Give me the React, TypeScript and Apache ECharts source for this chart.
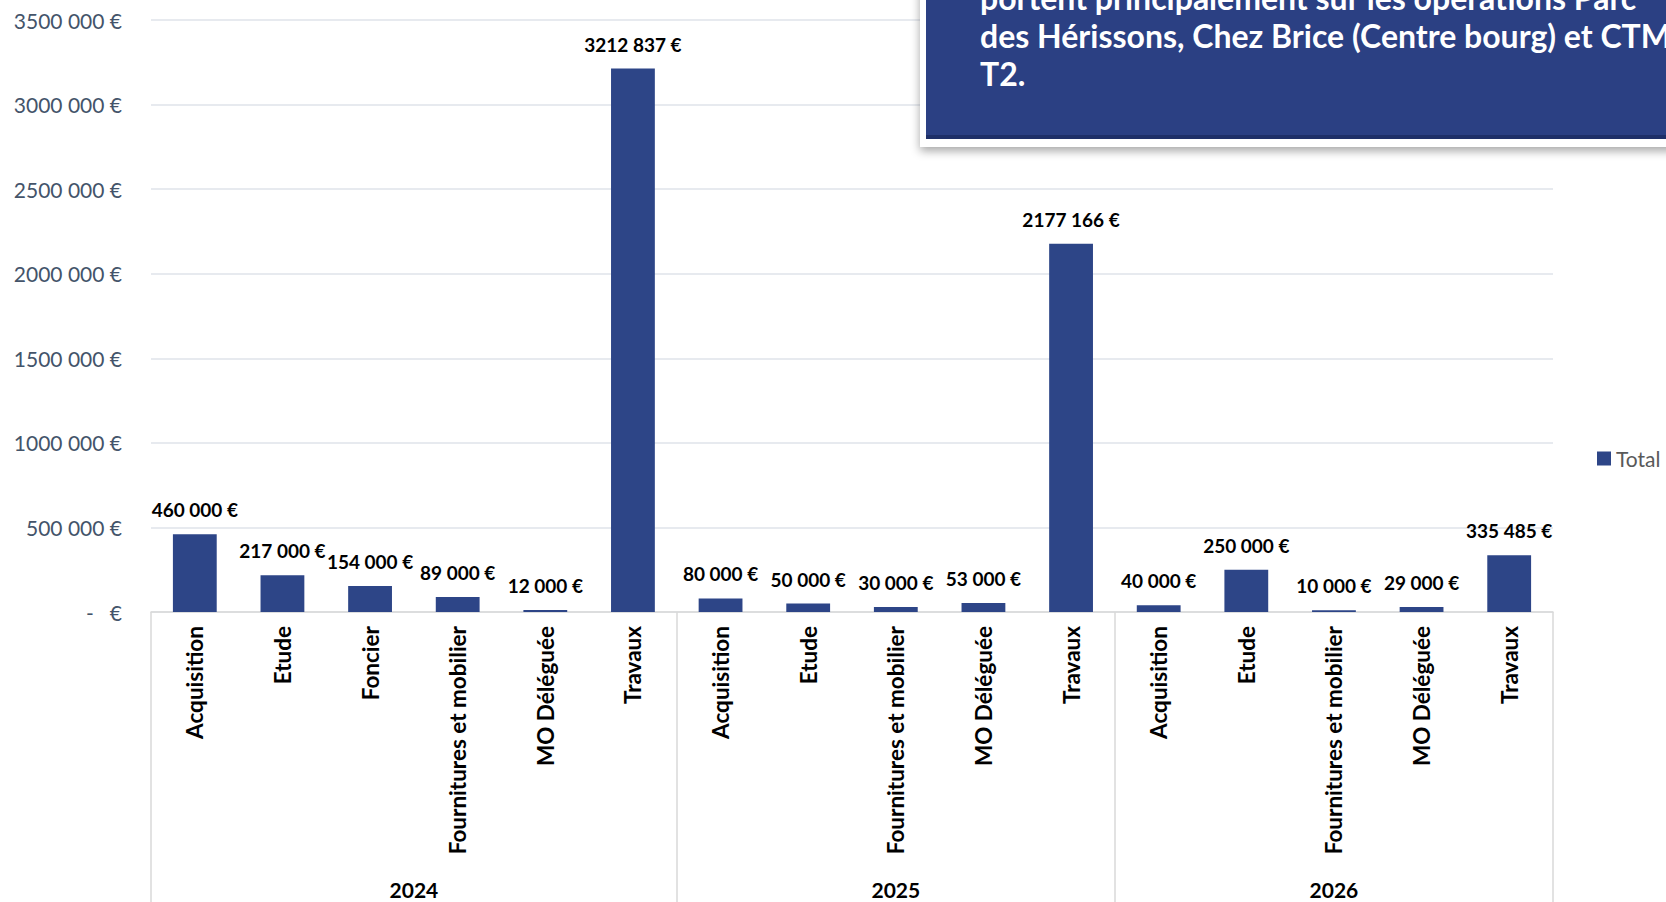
import React, { useEffect, useRef } from "react";
import * as echarts from "echarts";

const categories = [
  "Acquisition", "Etude", "Foncier", "Fournitures et mobilier", "MO Déléguée", "Travaux",
  "Acquisition", "Etude", "Fournitures et mobilier", "MO Déléguée", "Travaux",
  "Acquisition", "Etude", "Fournitures et mobilier", "MO Déléguée", "Travaux",
];
const values = [
  460000, 217000, 154000, 89000, 12000, 3212837,
  80000, 50000, 30000, 53000, 2177166,
  40000, 250000, 10000, 29000, 335485,
];
const years = ["2024", "2025", "2026"];
const yearSizes = [6, 5, 5];
const seriesName = "Total";
const noteLines = [
  "portent principalement sur les opérations Parc",
  "des Hérissons, Chez Brice (Centre bourg) et CTM",
  "T2.",
];

const BAR = "#2d4587";

function fmtEuro(v: number): string {
  if (v === 0) return "-\u00a0\u00a0\u00a0€";
  const k = Math.floor(v / 1000);
  const r = Math.round(v % 1000);
  if (k === 0) return `${r} €`;
  return `${k} ${String(r).padStart(3, "0")} €`;
}

export default function App() {
  const ref = useRef<HTMLDivElement>(null);
  useEffect(() => {
    if (!ref.current) return;
    const chart = echarts.init(ref.current, null, { renderer: "svg" });

    const bounds: number[] = [0];
    const centres: number[] = [];
    yearSizes.forEach((s) => {
      const start = bounds[bounds.length - 1];
      centres.push(start + s / 2);
      bounds.push(start + s);
    });

    chart.setOption({
      animation: false,
      backgroundColor: "#ffffff",
      textStyle: { fontFamily: "Lato" },
      grid: { left: 151, right: 113, top: 20, bottom: 290 },
      legend: {
        data: [seriesName],
        left: 1592,
        top: 443,
        itemWidth: 14,
        itemHeight: 14,
        itemGap: 6,
        icon: "rect",
        textStyle: { fontFamily: "Lato", fontSize: 21, color: "#595959" },
      },
      xAxis: [
        {
          type: "category",
          data: categories,
          axisLine: { show: true, lineStyle: { color: "#d9d9d9", width: 1.5 } },
          axisTick: { show: false },
          axisLabel: {
            interval: 0,
            rotate: 90,
            margin: 14,
            fontFamily: "Lato",
            fontWeight: "bold",
            fontSize: 22.5,
            color: "#000000",
          },
        },
        {
          type: "value",
          min: 0,
          max: categories.length,
          position: "bottom",
          axisLine: { show: false },
          splitLine: { show: false },
          axisTick: {
            show: true,
            customValues: bounds,
            length: 300,
            lineStyle: { color: "#d9d9d9", width: 1.5 },
          },
          axisLabel: {
            show: true,
            customValues: centres,
            margin: 267,
            fontFamily: "Lato",
            fontWeight: "bold",
            fontSize: 21,
            color: "#000000",
            formatter: (v: number) => {
              const i = centres.findIndex((c) => Math.abs(c - v) < 1e-6);
              return i >= 0 ? years[i] : "";
            },
          },
        },
      ],
      yAxis: {
        type: "value",
        min: 0,
        max: 3500000,
        interval: 500000,
        axisLine: { show: false },
        axisTick: { show: false },
        splitLine: { lineStyle: { color: "#dfe3ea", width: 1.5 } },
        axisLabel: {
          margin: 29,
          fontFamily: "Lato",
          fontSize: 21,
          color: "#44546a",
          formatter: (v: number) => fmtEuro(v),
        },
      },
      series: [
        {
          name: seriesName,
          type: "bar",
          data: values,
          barWidth: "50%",
          itemStyle: { color: BAR },
          label: {
            show: true,
            position: "top",
            distance: 15,
            fontFamily: "Lato",
            fontWeight: "bold",
            fontSize: 19,
            color: "#000000",
            formatter: (p: any) => fmtEuro(p.value),
          },
        },
      ],
      graphic: [
        {
          type: "rect",
          shape: { x: 920, y: -20, width: 780, height: 167 },
          style: {
            fill: "#ffffff",
            shadowBlur: 10,
            shadowOffsetY: 4,
            shadowColor: "rgba(0,0,0,0.35)",
          },
          z: 100,
        },
        {
          type: "rect",
          shape: { x: 926, y: -20, width: 780, height: 159 },
          style: { fill: "#2b4083" },
          z: 101,
        },
        {
          type: "rect",
          shape: { x: 926, y: 135, width: 780, height: 4 },
          style: { fill: "#1f3068" },
          z: 102,
        },
        ...noteLines.map((t, i) => ({
          type: "text",
          x: 980,
          y: -19 + i * 38,
          z: 103,
          style: {
            text: t,
            fill: "#ffffff",
            fontFamily: "Lato",
            fontWeight: "bold",
            fontSize: 32,
          },
        })),
      ],
    });
    return () => chart.dispose();
  }, []);
  return (
    <div
      ref={ref}
      style={{ position: "fixed", left: 0, top: 0, width: 1666, height: 902 }}
    />
  );
}
